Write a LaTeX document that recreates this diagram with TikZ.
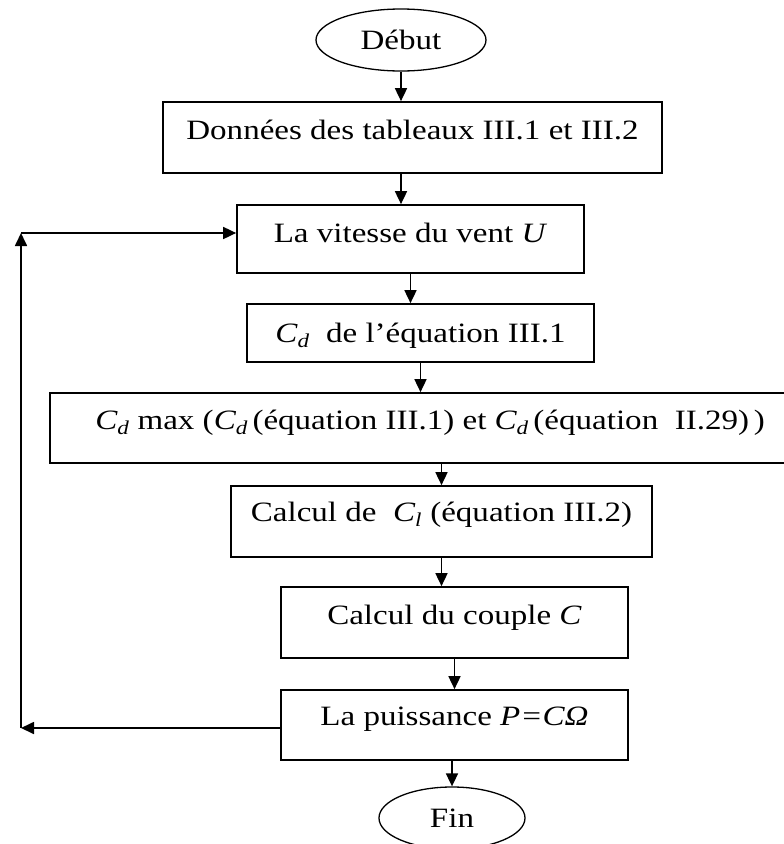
\documentclass[tikz,border=0pt]{standalone}
\usepackage{fontspec}
\setmainfont[FakeStretch=1.18]{Liberation Serif}
\usepackage{tikz}
\usetikzlibrary{arrows.meta,
                positioning,
                shapes}
\tikzstyle{arrow} = [line width=1.7pt,-{Triangle[length=13pt,width=12pt]}]
\tikzstyle{bloc} = [rectangle, draw, line width=1.7pt, inner sep=0pt]
\tikzstyle{term} = [ellipse, draw, line width=1.3pt, inner sep=0pt, minimum height=62pt]
\newcommand{\Cd}{\textit{C\textsubscript{d}}}

\begin{document}
\begin{tikzpicture}[x=1pt,y=-1pt,font=\fontsize{28}{32}\selectfont]
    \path[use as bounding box, clip] (0,0) rectangle (784,844);

    \node[term, minimum width=170pt] (debut) at (401,40) {Début};
    \node[bloc, minimum width=499pt, text height=37pt, text depth=34pt] (b1) at (412.5,137.5) {Données des tableaux III.1 et III.2};
    \node[bloc, minimum width=347pt, text height=37pt, text depth=31pt] (b2) at (410.5,239) {La vitesse du vent \textit{U}};
    \node[bloc, minimum width=347pt, text height=38pt, text depth=20pt] (b3) at (420.5,333) {\Cd{}~ de l’équation III.1};
    \node[bloc, minimum width=760pt, text height=36pt, text depth=34pt] (b4) at (430,428) {\Cd{} max (\Cd\,(équation III.1) et \Cd\,(équation~ II.29)\,)};
    \node[bloc, minimum width=421pt, text height=35pt, text depth=36pt] (b5) at (441.5,521.5) {Calcul de~ \textit{C\textsubscript{l}} (équation III.2)};
    \node[bloc, minimum width=347pt, text height=37pt, text depth=34pt] (b6) at (454.5,622.5) {Calcul du couple \textit{C}};
    \node[bloc, minimum width=347pt, text height=35pt, text depth=35pt] (b7) at (454.5,725) {La puissance \textit{P=CΩ}};
    \node[term, minimum width=146pt] (fin) at (452,818) {Fin};

    \coordinate (lb) at (21,728);
    \coordinate (lt) at (21,233);

    \draw [arrow] (debut.south) -- (debut.south |- b1.north);
    \draw [arrow] (debut |- b1.south) -- (debut |- b2.north);
    \draw [arrow] (b2.south) -- (b2.south |- b3.north);
    \draw [arrow] (b3.south) -- (b3.south |- b4.north);
    \draw [arrow] (b5.north |- b4.south) -- (b5.north);
    \draw [arrow] (b5.south) -- (b5.south |- b6.north);
    \draw [arrow] (b6.south) -- (b7.north);
    \draw [arrow] (fin.north |- b7.south) -- (fin.north);
    \draw [arrow] (b7.west |- lb) -- (lb);
    \draw [arrow] (lb) -- (lt);
    \draw [arrow] (lt) -- (lt -| b2.west);
\end{tikzpicture}
\end{document}
